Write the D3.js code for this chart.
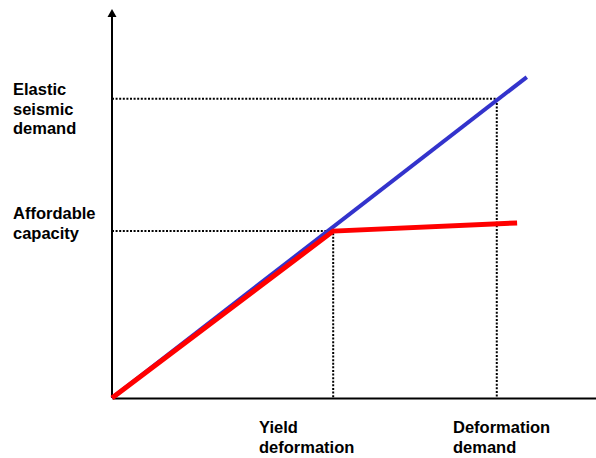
<!DOCTYPE html>
<html><head><meta charset="utf-8">
<script src="https://cdn.jsdelivr.net/npm/d3@7"></script>
<style>
html,body{margin:0;padding:0;background:#fff;}
svg{display:block;font-family:"Liberation Sans",Arial,sans-serif;}
</style></head>
<body>
<svg id="c" width="596" height="458"></svg>
<script>
// Data (x, y in % of axis extent)
const elasticLine = [[0,0],[85.7,82.5]];
const capacityCurve = [[0,0],[45.7,42.9],[83.7,45.0]];
const yieldPoint = [45.7,42.9];
const demandPoint = [79.5,76.9];
const yLabels = [
  {lines:["Elastic","seismic","demand"], y:76.9},
  {lines:["Affordable","capacity"], y:42.9}
];
const xLabels = [
  {lines:["Yield","deformation"], x:45.7},
  {lines:["Deformation","demand"], x:79.5}
];

const svg = d3.select("#c");
const x = d3.scaleLinear().domain([0,100]).range([112,596]);
const y = d3.scaleLinear().domain([0,100]).range([398,9]);

// guides
const guides = [
  [[0,demandPoint[1]],[demandPoint[0],demandPoint[1]],[demandPoint[0],0]],
  [[0,yieldPoint[1]],[yieldPoint[0],yieldPoint[1]],[yieldPoint[0],0]]
];
const line = d3.line().x(d=>x(d[0])).y(d=>y(d[1]));
svg.selectAll("path.guide").data(guides).join("path")
  .attr("class","guide").attr("d",line).attr("fill","none")
  .attr("stroke","#000").attr("stroke-width",2).attr("stroke-dasharray","2,1.6");

// axes
const xAxis = d3.axisBottom(x).tickValues([]).tickSizeOuter(0);
svg.append("g").attr("transform",`translate(0,${y(0)})`).call(xAxis)
  .select(".domain").attr("stroke","#000").attr("stroke-width",2);
const yAxis = d3.axisLeft(y).tickValues([]).tickSizeOuter(0);
const yg = svg.append("g").attr("transform",`translate(${x(0)},0)`).call(yAxis);
yg.select(".domain").attr("stroke","#000").attr("stroke-width",2)
  .attr("d",`M0,${y(0)}V${y(100)+8}`);
yg.append("path").attr("d",`M-4.5,${y(100)+8}L0,${y(100)}L4.5,${y(100)+8}Z`).attr("fill","#000");

// lines
svg.append("path").datum(elasticLine).attr("d",line).attr("fill","none")
  .attr("stroke","#3333cc").attr("stroke-width",4);
svg.append("path").datum(capacityCurve).attr("d",line).attr("fill","none")
  .attr("stroke","#ff0000").attr("stroke-width",5).attr("stroke-linejoin","miter");

// labels
const fs = 16.5, lh = 19.5;
yLabels.forEach((l,i)=>{
  const t = svg.append("text").attr("x",13).attr("font-size",fs).attr("font-weight","bold")
    .attr("y", i===0 ? 95 : 219);
  l.lines.forEach((s,j)=>t.append("tspan").attr("x",13).attr("dy",j?lh:0).text(s));
});
xLabels.forEach((l,i)=>{
  const left = i===0 ? 259 : 453;
  const t = svg.append("text").attr("x",left).attr("y",433).attr("font-size",fs).attr("font-weight","bold");
  l.lines.forEach((s,j)=>t.append("tspan").attr("x",left).attr("dy",j?lh:0).text(s));
});
</script>
</body></html>
